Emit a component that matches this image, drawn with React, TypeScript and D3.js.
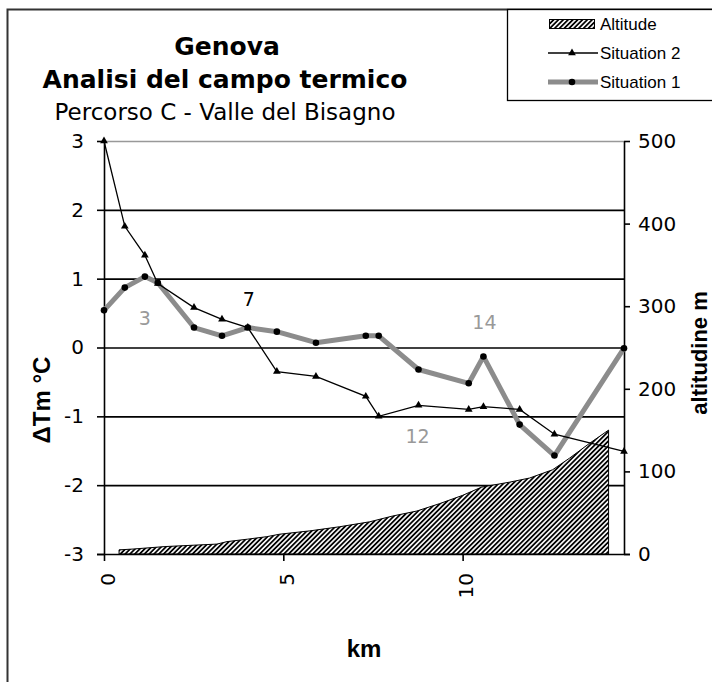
import React, { useEffect, useRef } from 'react';
import * as d3 from 'd3';

// station positions along the route (km) and temperature anomalies (°C)
const km = [0, 0.58, 1.14, 1.5, 2.51, 3.29, 4.01, 4.82, 5.91, 7.3, 7.66, 8.77, 10.17, 10.58, 11.59, 12.56, 14.5];
const situation1 = [0.54, 0.87, 1.03, 0.94, 0.29, 0.17, 0.29, 0.23, 0.07, 0.17, 0.17, -0.32, -0.52, -0.13, -1.12, -1.57, -0.01];
const situation2 = [3.0, 1.76, 1.34, 0.93, 0.58, 0.41, 0.29, -0.35, -0.42, -0.71, -1.0, -0.84, -0.9, -0.86, -0.9, -1.26, -1.51];

// altitude profile (km, m)
const altKm = [0.42, 0.81, 1.7, 3.15, 3.43, 4.01, 4.54, 4.9, 5.74, 6.57, 7.41, 8.05, 8.72, 9.36, 10.0, 10.53, 11.31, 11.87, 12.51, 12.98, 13.54, 14.07];
const altM = [5, 6, 9, 12, 15, 18, 21, 24, 28, 33, 39, 46, 52, 61, 71, 81, 87, 92, 102, 116, 134, 150];

const tempTicks = [3, 2, 1, 0, -1, -2, -3];
const altTicks = [0, 100, 200, 300, 400, 500];
const kmTicks = [0, 5, 10];

// station numbers written next to some points
const pointLabels = [
  { index: 2, text: '3', series: 1 },
  { index: 6, text: '7', series: 2 },
  { index: 11, text: '12', series: 2 },
  { index: 13, text: '14', series: 1 },
];

const titleLines = ['Genova', 'Analisi del campo termico'];
const subtitle = 'Percorso C - Valle del Bisagno';
const legendLabels = ['Altitude', 'Situation 2', 'Situation 1'];

const W = 712;
const H = 682;
const plot = { left: 104, right: 624, top: 141, bottom: 554 };
const GREY = '#8c8c8c';
const labelOffsets = { '3': [0, 42], '7': [1, -28], '12': [-1, 31], '14': [1, -34] };

const App = () => {
  const ref = useRef<SVGSVGElement>(null);

  useEffect(() => {
    const svg = d3.select(ref.current);
    svg.selectAll('*').remove();

    const x = d3.scaleLinear().domain([0, 14.5]).range([plot.left, plot.right]);
    const yT = d3.scaleLinear().domain([-3, 3]).range([plot.bottom, plot.top]);
    const yA = d3.scaleLinear().domain([0, 500]).range([plot.bottom, plot.top]);

    const defs = svg.append('defs');
    const pat = defs.append('pattern')
      .attr('id', 'hatch')
      .attr('patternUnits', 'userSpaceOnUse')
      .attr('width', 3.4)
      .attr('height', 3.4)
      .attr('patternTransform', 'rotate(45)');
    pat.append('rect').attr('width', 3.4).attr('height', 3.4).attr('fill', '#f2f2f2');
    pat.append('rect').attr('width', 1.7).attr('height', 3.4).attr('fill', '#000');

    svg.append('rect').attr('width', W).attr('height', H).attr('fill', '#fff');

    // outer chart frame (cropped at right and bottom)
    svg.append('rect')
      .attr('x', 7.5).attr('y', 9.5).attr('width', W + 20).attr('height', H + 20)
      .attr('fill', 'none').attr('stroke', '#333').attr('stroke-width', 2);

    // titles
    const title = svg.append('g').attr('font-family', 'DejaVu Sans').attr('text-anchor', 'middle').attr('fill', '#000');
    title.append('text').attr('x', 227).attr('y', 55).attr('font-size', 25).attr('font-weight', 'bold').text(titleLines[0]);
    title.append('text').attr('x', 225).attr('y', 88).attr('font-size', 25).attr('font-weight', 'bold').text(titleLines[1]);
    title.append('text').attr('x', 225).attr('y', 120).attr('font-size', 23).text(subtitle);

    // gridlines
    svg.append('g')
      .selectAll('line')
      .data(tempTicks.filter(t => t > -3))
      .join('line')
      .attr('x1', plot.left).attr('x2', plot.right)
      .attr('y1', d => yT(d) + 0.5).attr('y2', d => yT(d) + 0.5)
      .attr('stroke', d => (d === 3 ? '#999' : '#000'))
      .attr('stroke-width', 1.6);

    // altitude area
    const altData = altKm.map((k, i) => [k, altM[i]]);
    const area = d3.area<number[]>()
      .x(d => x(d[0]))
      .y0(yA(0))
      .y1(d => yA(d[1]));
    svg.append('path')
      .datum(altData)
      .attr('d', area)
      .attr('fill', 'url(#hatch)')
      .attr('stroke', '#000')
      .attr('stroke-width', 1);

    // axes
    const axisFont = (g) => {
      g.selectAll('text').attr('font-family', 'DejaVu Sans').attr('font-size', 20).attr('fill', '#000');
      g.selectAll('line').attr('stroke', '#000').attr('stroke-width', 1.6);
      g.select('.domain').attr('stroke', '#000').attr('stroke-width', 1.6);
    };

    svg.append('g')
      .attr('transform', `translate(${plot.left},0)`)
      .call(d3.axisLeft(yT).tickValues(tempTicks).tickSize(7).tickSizeOuter(0).tickPadding(13).tickFormat(d => String(d)))
      .call(axisFont);

    svg.append('g')
      .attr('transform', `translate(${plot.right},0)`)
      .call(d3.axisRight(yA).tickValues(altTicks).tickSize(6).tickSizeOuter(0).tickPadding(8).tickFormat(d => String(d)))
      .call(axisFont);

    const bottomAxis = svg.append('g')
      .attr('transform', `translate(0,${plot.bottom})`)
      .call(d3.axisBottom(x).tickValues(kmTicks).tickSize(7).tickSizeOuter(0).tickFormat(d => String(d)))
      .call(axisFont);
    bottomAxis.select('.domain').attr('d', `M${plot.left - 7},0.5H${plot.right + 6}`);
    bottomAxis.selectAll('text')
      .attr('transform', 'rotate(-90)')
      .attr('text-anchor', 'end')
      .attr('x', -19)
      .attr('y', 10)
      .attr('dy', 0);

    // axis titles
    const axisTitle = svg.append('g').attr('font-family', 'Liberation Sans').attr('font-weight', 'bold').attr('font-size', 24).attr('text-anchor', 'middle');
    axisTitle.append('text').attr('x', 364).attr('y', 657).text('km');
    axisTitle.append('text').attr('transform', 'translate(50,400) rotate(-90)').text('ΔTm °C');
    axisTitle.append('text').attr('transform', 'translate(707,353) rotate(-90)').attr('font-size', 22).text('altitudine m');

    // lines
    const line = d3.line<number>().x((d, i) => x(km[i])).y(d => yT(d));

    svg.append('path')
      .datum(situation1)
      .attr('d', line)
      .attr('fill', 'none')
      .attr('stroke', GREY)
      .attr('stroke-width', 5)
      .attr('stroke-linejoin', 'round');

    svg.append('path')
      .datum(situation2)
      .attr('d', line)
      .attr('fill', 'none')
      .attr('stroke', '#000')
      .attr('stroke-width', 1.3);

    svg.append('g')
      .selectAll('circle')
      .data(situation1)
      .join('circle')
      .attr('cx', (d, i) => x(km[i]))
      .attr('cy', d => yT(d))
      .attr('r', 3.3)
      .attr('fill', '#000');

    const tri = d3.symbol(d3.symbolTriangle, 26);
    svg.append('g')
      .selectAll('path')
      .data(situation2)
      .join('path')
      .attr('transform', (d, i) => `translate(${x(km[i])},${yT(d)})`)
      .attr('d', tri)
      .attr('fill', '#000');

    // station labels
    svg.append('g')
      .selectAll('text')
      .data(pointLabels)
      .join('text')
      .attr('x', d => x(km[d.index]) + labelOffsets[d.text][0])
      .attr('y', d => yT(d.series === 1 ? situation1[d.index] : situation2[d.index]) + labelOffsets[d.text][1])
      .attr('dy', '0.36em')
      .attr('text-anchor', 'middle')
      .attr('font-family', 'DejaVu Sans')
      .attr('font-size', 19)
      .attr('fill', d => (d.text === '7' ? '#000' : '#999'))
      .text(d => d.text);

    // legend
    const legend = svg.append('g');
    legend.append('rect')
      .attr('x', 507.5).attr('y', 9.5).attr('width', 230).attr('height', 91)
      .attr('fill', '#fff').attr('stroke', '#000').attr('stroke-width', 1.3);
    const rowY = [24, 53, 82];
    legend.append('rect')
      .attr('x', 549.5).attr('y', rowY[0] - 4.5).attr('width', 45).attr('height', 9)
      .attr('fill', 'url(#hatch)').attr('stroke', '#000').attr('stroke-width', 1);
    legend.append('line')
      .attr('x1', 548).attr('x2', 598).attr('y1', rowY[1]).attr('y2', rowY[1])
      .attr('stroke', '#000').attr('stroke-width', 1.3);
    legend.append('path')
      .attr('transform', `translate(572,${rowY[1]})`)
      .attr('d', tri)
      .attr('fill', '#000');
    legend.append('line')
      .attr('x1', 548).attr('x2', 598).attr('y1', rowY[2]).attr('y2', rowY[2])
      .attr('stroke', GREY).attr('stroke-width', 5);
    legend.append('circle').attr('cx', 572).attr('cy', rowY[2]).attr('r', 3.3).attr('fill', '#000');
    legend.selectAll('text.lbl')
      .data(legendLabels)
      .join('text')
      .attr('class', 'lbl')
      .attr('x', 600)
      .attr('y', (d, i) => rowY[i])
      .attr('dy', '0.36em')
      .attr('font-family', 'Liberation Sans')
      .attr('font-size', 17)
      .attr('fill', '#000')
      .text(d => d);
  }, []);

  return (
    <svg
      ref={ref}
      width={W}
      height={H}
      style={{ position: 'absolute', left: 0, top: 0 }}
    />
  );
};

export default App;
